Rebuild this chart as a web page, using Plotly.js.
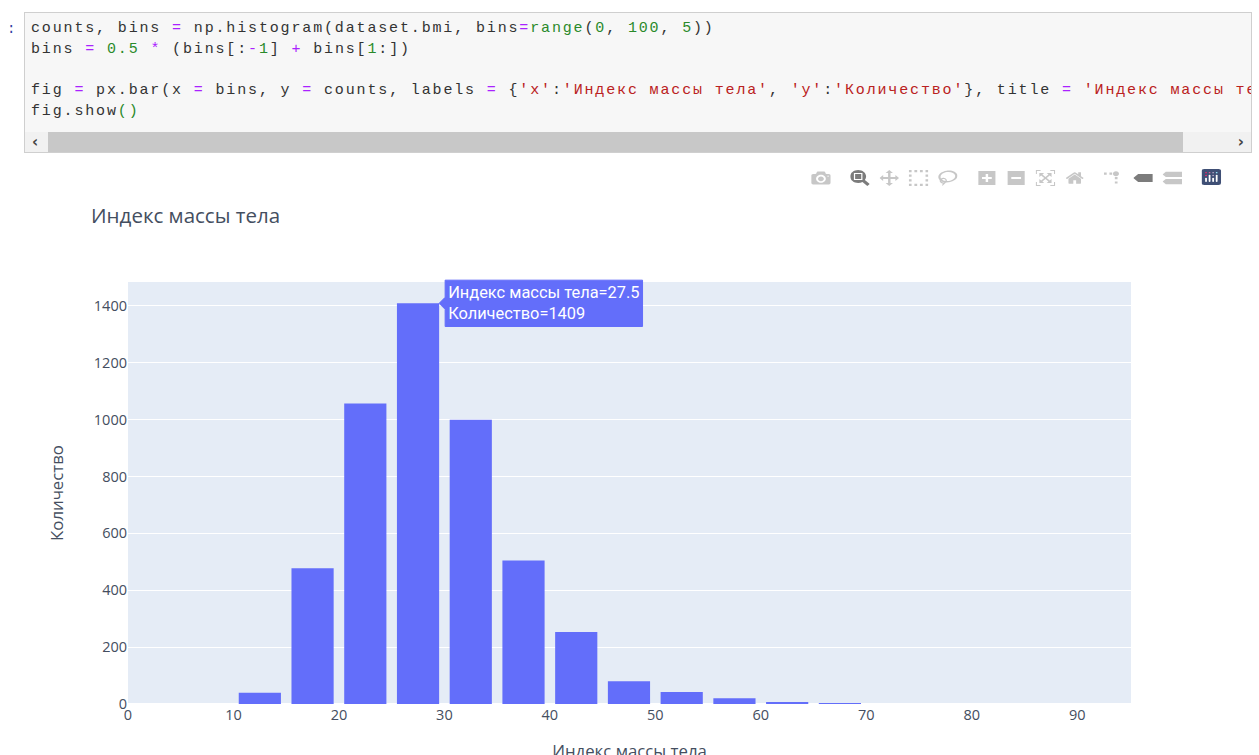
<!DOCTYPE html>
<html><head><meta charset="utf-8">
<script src="https://cdn.plot.ly/plotly-3.0.1.min.js"></script>
<style>
html,body{margin:0;padding:0;background:#fff;width:1259px;height:755px;overflow:hidden}
#prompt{position:absolute;left:7px;top:20px;font:14px/19px "Liberation Mono",monospace;color:#303f9f}
#cell{position:absolute;left:24px;top:12px;width:1228px;height:141px;box-sizing:border-box;background:#f7f7f7;border:1px solid #cfcfcf;overflow:hidden}
#code{position:absolute;left:6px;top:6px;margin:0;font:15px/20.8px "Liberation Mono",monospace;letter-spacing:1.85px;color:#333;white-space:pre}
#code div{height:20.8px}
.o{color:#aa22ff}.n{color:#2a8a2a}.s{color:#ba2121}.b{color:#2a8a2a}
#track{position:absolute;left:0;right:0;top:119px;height:21px;background:#f1f1f1}
#thumb{position:absolute;left:23px;width:1135px;top:0;height:21px;background:#c8c8c8}
.arr{position:absolute;top:1px;font:bold 15px/19px "DejaVu Sans",sans-serif;color:#444}
#plot{position:absolute;left:24px;top:160px;width:1228px;height:624px}
.modebar{transform-origin:100% 0;transform:translate(-24px,4px) scaleX(1.22)}
.modebar-btn--logo rect{fill:#3f4f75 !important}
</style></head><body>
<div id="prompt">:</div>
<div id="cell">
<div id="code"><div>counts, bins <span class="o">=</span> np.histogram(dataset.bmi, bins<span class="o">=</span><span class="b">range</span>(<span class="n">0</span>, <span class="n">100</span>, <span class="n">5</span>))</div><div>bins <span class="o">=</span> <span class="n">0.5</span> <span class="o">*</span> (bins[:<span class="o">-</span><span class="n">1</span>] <span class="o">+</span> bins[<span class="n">1</span>:])</div><div></div><div>fig <span class="o">=</span> px.bar(x <span class="o">=</span> bins, y <span class="o">=</span> counts, labels <span class="o">=</span> {<span class="s">'x'</span>:<span class="s">'Индекс массы тела'</span>, <span class="s">'y'</span>:<span class="s">'Количество'</span>}, title <span class="o">=</span> <span class="s">'Индекс массы тела'</span>)</div><div>fig.show<span class="n">()</span></div></div>
<div id="track"><div id="thumb"></div><span class="arr" style="left:7px">‹</span><span class="arr" style="right:7px">›</span></div>
</div>
<div id="plot"></div>
<script>
const binCenters = [2.5,7.5,12.5,17.5,22.5,27.5,32.5,37.5,42.5,47.5,52.5,57.5,62.5,67.5,72.5,77.5,82.5,87.5,92.5];
const counts = [0,0,40,477,1057,1409,1000,505,253,80,42,20,6,1,0,0,0,0,0];
const xLabel = 'Индекс массы тела';
const yLabel = 'Количество';
const chartTitle = 'Индекс массы тела';
const xTicks = [0,10,20,30,40,50,60,70,80,90];
const yTicks = [0,200,400,600,800,1000,1200,1400];
const ink = '#2a3f5f', label = '#444e60';
const trace = {type:'bar', x:binCenters, y:counts, marker:{color:'#636efa'},
  hovertemplate: xLabel+'=%{x}<br>'+yLabel+'=%{y}<extra></extra>'};
const layout = {
  width:1228, height:624,
  margin:{l:104,r:121,t:122,b:80},
  paper_bgcolor:'#fff', plot_bgcolor:'#e5ecf6',
  font:{family:'"Open Sans",sans-serif', color:ink, size:14},
  title:{text:chartTitle, x:0.0546, xanchor:'left', y:0.91, yanchor:'middle', font:{size:20.5,color:label}},
  bargap:0.2, hovermode:'closest', showlegend:false,
  hoverlabel:{font:{family:'Roboto,sans-serif',size:16.4,color:'#fff'}, bgcolor:'#636efa', bordercolor:'#636efa'},
  xaxis:{range:[0,95.1], tickvals:xTicks, ticktext:xTicks.map(String), showgrid:false, zeroline:false, ticks:'',
    tickfont:{size:14.5,color:label},
    title:{text:xLabel, standoff:22, font:{size:16.8,color:label}}},
  yaxis:{range:[0,1484], tickvals:yTicks, ticktext:yTicks.map(String), gridcolor:'#fff', zeroline:true, zerolinecolor:'#fff', zerolinewidth:2, ticks:'',
    tickfont:{size:14.5,color:label},
    title:{text:yLabel, standoff:25, font:{size:16.8,color:label}}}
};
const config = {displayModeBar:true, displaylogo:true,
  modeBarButtons:[['toImage'],['zoom2d','pan2d','select2d','lasso2d'],['zoomIn2d','zoomOut2d','autoScale2d','resetScale2d'],['toggleSpikelines','hoverClosestCartesian','hoverCompareCartesian']]};
Plotly.newPlot('plot',[trace],layout,config).then(gd=>{
  Plotly.Fx.hover(gd,[{curveNumber:0,pointNumber:counts.indexOf(1409)}]);
});
</script>
</body></html>
